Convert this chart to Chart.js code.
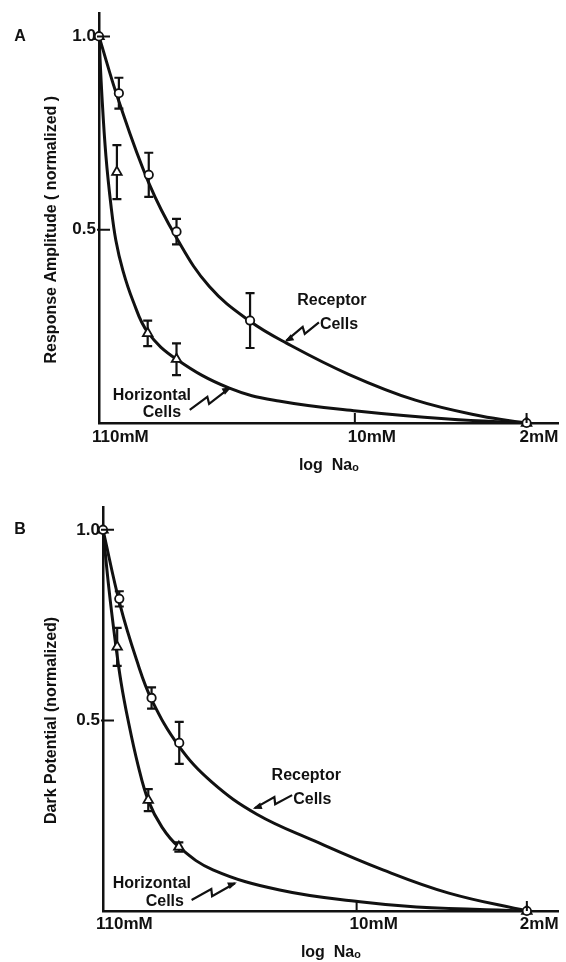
<!DOCTYPE html>
<html>
<head>
<meta charset="utf-8">
<script src="https://cdn.jsdelivr.net/npm/chart.js@4.4.0/dist/chart.umd.min.js"></script>
<style>
  html, body { margin: 0; padding: 0; background: #fff; }
  .panel { position: absolute; left: 0; width: 566px; }
  #panelA { top: 0; height: 480px; }
  #panelB { top: 480px; height: 482px; }
</style>
</head>
<body>
<div class="panel" id="panelA"><canvas id="chartA" width="566" height="480"></canvas></div>
<div class="panel" id="panelB"><canvas id="chartB" width="566" height="482"></canvas></div>
<script>
// axis ticks, same for both panels (Na concentration falls to the right)
const xTicks = [110, 10, 2];
const xTickLabels = ['110mM', '10mM', '2mM'];
const yTicks = [0.5, 1.0];
const yTickLabels = ['0.5', '1.0'];

// A - response amplitude, measured points (mM, normalized, +/- error)
const aRecConc = [110, 91.3, 69.0, 53.2, 26.7, 2];
const aRecAmp = [1.0, 0.853, 0.642, 0.495, 0.265, 0];
const aRecErr = [0, 0.04, 0.057, 0.033, 0.071, 0];
const aHorConc = [110, 93.0, 69.7, 53.2, 2];
const aHorAmp = [1.0, 0.649, 0.232, 0.165, 0];
const aHorErr = [0, 0.07, 0.033, 0.041, 0];
// A - fitted curves
const aRecFitConc = [110, 91.3, 69.0, 53.2, 39.1, 26.7, 18.9, 10.6, 5.67, 3.07, 2];
const aRecFitAmp = [1.0, 0.832, 0.621, 0.479, 0.353, 0.263, 0.206, 0.126, 0.059, 0.018, 0];
const aHorFitConc = [110, 107, 103.1, 98.3, 93.9, 87.9, 80.1, 69.7, 53.2, 32.4, 20.4, 9.84, 4.17, 2];
const aHorFitAmp = [1.0, 0.845, 0.691, 0.562, 0.472, 0.394, 0.317, 0.235, 0.165, 0.09, 0.057, 0.031, 0.0103, 0];

// B - dark potential, measured points
const bRecConc = [110, 94.3, 69.5, 53.5, 2];
const bRecDark = [1.0, 0.819, 0.559, 0.441, 0];
const bRecErr = [0, 0.02, 0.028, 0.055, 0];
const bHorConc = [110, 96.2, 71.7, 53.7, 2];
const bHorDark = [1.0, 0.693, 0.291, 0.168, 0];
const bHorErr = [0, 0.05, 0.029, 0.012, 0];
// B - fitted curves
const bRecFitConc = [110, 93.6, 80.1, 69.4, 53.6, 39.3, 25.7, 14.9, 7.8, 4.18, 2];
const bRecFitDark = [1.0, 0.803, 0.659, 0.554, 0.432, 0.338, 0.254, 0.184, 0.108, 0.047, 0];
const bHorFitConc = [110, 103.9, 98.1, 92.8, 86.8, 79.0, 71.8, 63.0, 53.7, 38.9, 20.7, 9.7, 5.67, 2];
const bHorFitDark = [1.0, 0.843, 0.711, 0.601, 0.501, 0.383, 0.291, 0.22, 0.168, 0.108, 0.055, 0.024, 0.0105, 0];

const FONT = '"Liberation Sans", Arial, sans-serif';
const INK = '#111';

function pts(xs, ys) {
  return xs.map((x, i) => ({ x: x, y: ys[i] }));
}

// vertical error bars with caps, drawn under the markers
const errorBars = {
  id: 'errorBars',
  beforeDatasetsDraw(chart) {
    const ctx = chart.ctx, xs = chart.scales.x, ys = chart.scales.y;
    ctx.save();
    ctx.strokeStyle = INK;
    ctx.lineWidth = 2.2;
    chart.data.datasets.forEach(ds => {
      if (!ds.errors) return;
      ds.data.forEach((p, i) => {
        const e = ds.errors[i];
        if (!e) return;
        const x = xs.getPixelForValue(p.x);
        const y1 = ys.getPixelForValue(p.y + e);
        const y2 = ys.getPixelForValue(p.y - e);
        ctx.beginPath();
        ctx.moveTo(x, y1); ctx.lineTo(x, y2);
        ctx.moveTo(x - 4.5, y1); ctx.lineTo(x + 4.5, y1);
        ctx.moveTo(x - 4.5, y2); ctx.lineTo(x + 4.5, y2);
        ctx.stroke();
      });
    });
    ctx.restore();
  }
};

// zigzag pointer from a label to a curve
function bolt(ctx, x1, y1, x2, y2) {
  const dx = x2 - x1, dy = y2 - y1, len = Math.hypot(dx, dy);
  const nx = -dy / len, ny = dx / len;
  const at = (t, n) => [x1 + dx * t + nx * n, y1 + dy * t + ny * n];
  const p = [at(0, 0), at(0.48, -3), at(0.44, 4), at(1, 0)];
  ctx.beginPath();
  ctx.moveTo(p[0][0], p[0][1]);
  for (let i = 1; i < p.length; i++) ctx.lineTo(p[i][0], p[i][1]);
  ctx.stroke();
  const ux = dx / len, uy = dy / len;
  ctx.beginPath();
  ctx.moveTo(x2 + ux * 2, y2 + uy * 2);
  ctx.lineTo(x2 - ux * 7 + nx * 3.5, y2 - uy * 7 + ny * 3.5);
  ctx.lineTo(x2 - ux * 7 - nx * 3.5, y2 - uy * 7 - ny * 3.5);
  ctx.closePath();
  ctx.fill();
}

// inward tick marks, panel letter, y title and the curve labels
const frame = {
  id: 'frame',
  afterDraw(chart, args, opts) {
    const ctx = chart.ctx, xs = chart.scales.x, ys = chart.scales.y, area = chart.chartArea;
    ctx.save();
    ctx.strokeStyle = INK;
    ctx.fillStyle = INK;
    ctx.lineWidth = 2;
    ctx.beginPath();
    ys.ticks.forEach(t => {
      const y = ys.getPixelForValue(t.value);
      ctx.moveTo(area.left - 2, y); ctx.lineTo(area.left + 11, y);
    });
    xs.ticks.forEach(t => {
      const x = xs.getPixelForValue(t.value);
      ctx.moveTo(x, area.bottom); ctx.lineTo(x, area.bottom - 10);
    });
    ctx.stroke();

    ctx.textAlign = 'center';
    ctx.textBaseline = 'middle';
    ctx.font = 'bold 16px ' + FONT;
    ctx.fillText(opts.letter, 20, ys.getPixelForValue(1.0));

    // y title centred on the 0..1 range
    const yMid = (ys.getPixelForValue(0) + ys.getPixelForValue(1)) / 2;
    ctx.save();
    ctx.translate(opts.titleX, yMid);
    ctx.rotate(-Math.PI / 2);
    ctx.fillText(opts.yTitle, 0, 0);
    ctx.restore();

    opts.notes.forEach(n => {
      ctx.fillText(n.text, xs.getPixelForValue(n.x), ys.getPixelForValue(n.y));
    });
    ctx.lineWidth = 2.2;
    opts.arrows.forEach(a => {
      bolt(ctx,
        xs.getPixelForValue(a.from[0]), ys.getPixelForValue(a.from[1]),
        xs.getPixelForValue(a.to[0]), ys.getPixelForValue(a.to[1]));
    });
    ctx.restore();
  }
};

function makePanel(id, o) {
  const ctx = document.getElementById(id).getContext('2d');
  new Chart(ctx, {
    type: 'scatter',
    data: {
      datasets: [
        {
          data: pts(o.recX, o.recY), errors: o.recErr,
          pointStyle: 'circle', pointRadius: 4.2, pointBorderWidth: 1.8,
          pointBackgroundColor: '#fff', pointBorderColor: INK, clip: false
        },
        {
          data: pts(o.horX, o.horY), errors: o.horErr,
          pointStyle: 'triangle', pointRadius: 5.5, pointBorderWidth: 1.8,
          pointBackgroundColor: '#fff', pointBorderColor: INK, clip: false
        },
        {
          data: pts(o.recFitX, o.recFitY), showLine: true,
          borderColor: INK, borderWidth: 3, pointRadius: 0, tension: 0.4
        },
        {
          data: pts(o.horFitX, o.horFitY), showLine: true,
          borderColor: INK, borderWidth: 3, pointRadius: 0, tension: 0.4
        }
      ]
    },
    options: {
      responsive: false,
      animation: false,
      devicePixelRatio: 1,
      layout: { padding: { top: o.padTop, right: o.padRight, bottom: 0, left: 0 } },
      plugins: {
        legend: { display: false },
        tooltip: { enabled: false },
        frame: { letter: o.letter, yTitle: o.yTitle, titleX: 52, notes: o.notes, arrows: o.arrows }
      },
      scales: {
        x: {
          type: 'logarithmic',
          reverse: true,
          min: 1.48,
          max: 110,
          bounds: 'data',
          afterBuildTicks: s => { s.ticks = xTicks.map(v => ({ value: v })); },
          afterFit: s => { s.height = o.xAxisH; s.paddingLeft = 0; s.paddingRight = 0; },
          grid: { display: false, drawTicks: false },
          border: { display: true, color: INK, width: 2.5 },
          ticks: {
            callback: (v, i) => xTickLabels[i],
            autoSkip: false, maxRotation: 0, align: 'start', labelOffset: -7,
            padding: o.tickPad, color: INK,
            font: { family: FONT, size: 17, weight: 'bold' }
          },
          title: {
            display: true, text: 'log  Naₒ', color: INK,
            font: { family: FONT, size: 16, weight: 'bold' },
            padding: { top: 0, bottom: o.xTitlePad }
          }
        },
        y: {
          min: 0,
          max: 1.06,
          bounds: 'data',
          afterBuildTicks: s => { s.ticks = yTicks.map(v => ({ value: v })); },
          afterFit: s => { s.width = o.yAxisW; },
          grid: { display: false, drawTicks: false },
          border: { display: true, color: INK, width: 2.5 },
          ticks: {
            callback: (v, i) => yTickLabels[i],
            padding: 3, color: INK,
            font: { family: FONT, size: 17, weight: 'bold' }
          }
        }
      }
    },
    plugins: [errorBars, frame]
  });
}

makePanel('chartA', {
  letter: 'A', yTitle: 'Response Amplitude ( normalized )',
  recX: aRecConc, recY: aRecAmp, recErr: aRecErr,
  horX: aHorConc, horY: aHorAmp, horErr: aHorErr,
  recFitX: aRecFitConc, recFitY: aRecFitAmp,
  horFitX: aHorFitConc, horFitY: aHorFitAmp,
  padTop: 12, padRight: 4, yAxisW: 99, xAxisH: 57, tickPad: 4, xTitlePad: 5,
  notes: [
    { text: 'Receptor', x: 12.4, y: 0.317 },
    { text: 'Cells', x: 11.6, y: 0.255 },
    { text: 'Horizontal', x: 67, y: 0.072 },
    { text: 'Cells', x: 61, y: 0.026 }
  ],
  arrows: [
    { from: [14.0, 0.26], to: [19.0, 0.213] },
    { from: [47, 0.034], to: [32.4, 0.09] }
  ]
});

makePanel('chartB', {
  letter: 'B', yTitle: 'Dark Potential (normalized)',
  recX: bRecConc, recY: bRecDark, recErr: bRecErr,
  horX: bHorConc, horY: bHorDark, horErr: bHorErr,
  recFitX: bRecFitConc, recFitY: bRecFitDark,
  horFitX: bHorFitConc, horFitY: bHorFitDark,
  padTop: 27, padRight: 6, yAxisW: 103, xAxisH: 51, tickPad: 3, xTitlePad: 0,
  notes: [
    { text: 'Receptor', x: 16.1, y: 0.354 },
    { text: 'Cells', x: 15.2, y: 0.291 },
    { text: 'Horizontal', x: 69.3, y: 0.071 },
    { text: 'Cells', x: 61.3, y: 0.024 }
  ],
  arrows: [
    { from: [18.4, 0.304], to: [26.2, 0.27] },
    { from: [47.6, 0.029], to: [31.6, 0.073] }
  ]
});
</script>
</body>
</html>
